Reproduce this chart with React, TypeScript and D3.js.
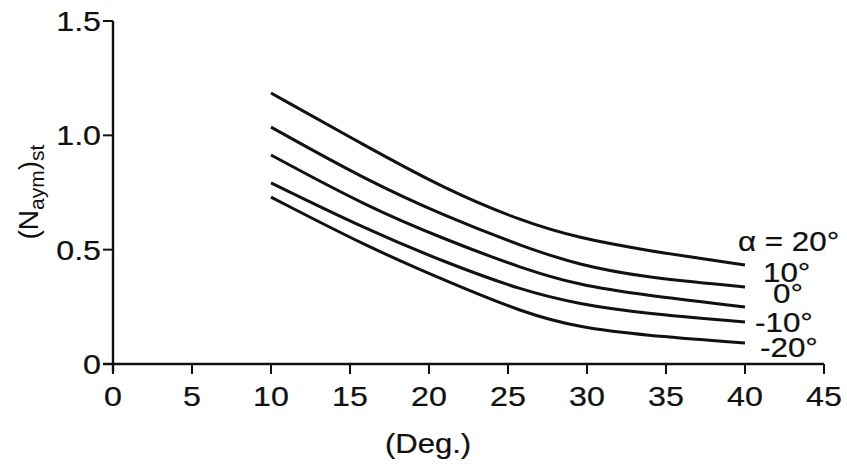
import React from "react";
import * as d3 from "d3";

const xTicks = [0, 5, 10, 15, 20, 25, 30, 35, 40, 45];
const yTicks = [0, 0.5, 1.0, 1.5];
const yTickLabels = ["0", "0.5", "1.0", "1.5"];

const degrees = [10, 16, 21, 26, 29.5, 33.5, 40];
const alphaPlus20 = [1.185, 0.953, 0.765, 0.621, 0.551, 0.499, 0.433];
const alphaPlus10 = [1.036, 0.805, 0.647, 0.512, 0.433, 0.38, 0.337];
const alphaZero = [0.914, 0.691, 0.545, 0.415, 0.345, 0.302, 0.249];
const alphaMinus10 = [0.792, 0.59, 0.445, 0.319, 0.262, 0.222, 0.184];
const alphaMinus20 = [0.73, 0.516, 0.365, 0.223, 0.16, 0.126, 0.092];

const seriesLabels = ["α = 20°", "10°", "0°", "-10°", "-20°"];
const seriesValues = [alphaPlus20, alphaPlus10, alphaZero, alphaMinus10, alphaMinus20];
const labelOffsets = [
  { dx: -7, dy: -14 },
  { dx: 18, dy: -5 },
  { dx: 28, dy: -4 },
  { dx: 10, dy: 10 },
  { dx: 15, dy: 14 },
];

const ink = "#111";

function T(props: {
  x: number;
  y: number;
  size: number;
  anchor?: "start" | "middle" | "end";
  sx?: number;
  children: React.ReactNode;
}) {
  const { x, y, size, anchor = "start", sx = 1.15, children } = props;
  return (
    <text
      transform={`translate(${x},${y}) scale(${sx},1)`}
      textAnchor={anchor}
      fontSize={size}
      fill={ink}
      stroke={ink}
      strokeWidth={0.25}
    >
      {children}
    </text>
  );
}

export default function App() {
  const W = 847;
  const H = 474;
  const x = d3.scaleLinear().domain([0, 45]).range([113, 824]);
  const y = d3.scaleLinear().domain([0, 1.5]).range([364, 21]);
  const line = d3
    .line<[number, number]>()
    .x((d) => x(d[0]))
    .y((d) => y(d[1]))
    .curve(d3.curveBasis);
  const font = "'Liberation Sans', Arial, sans-serif";
  return (
    <svg
      width={W}
      height={H}
      style={{ position: "absolute", left: 0, top: 0, background: "#fff" }}
      fontFamily={font}
    >
      <line x1={x(0)} x2={x(0)} y1={y(1.5)} y2={y(0) + 8} stroke={ink} strokeWidth={2.4} />
      <line x1={x(0) - 10} x2={x(45)} y1={y(0)} y2={y(0)} stroke={ink} strokeWidth={2.4} />
      {yTicks.map((t, i) => (
        <g key={"y" + i}>
          <line x1={x(0) - 10} x2={x(0)} y1={y(t)} y2={y(t)} stroke={ink} strokeWidth={2} />
          <T x={x(0) - 12} y={y(t) + 10} size={28} anchor="end">
            {yTickLabels[i]}
          </T>
        </g>
      ))}
      {xTicks.map((t) => (
        <g key={"x" + t}>
          <line x1={x(t)} x2={x(t)} y1={y(0)} y2={y(0) + 10} stroke={ink} strokeWidth={2} />
          <T x={x(t)} y={y(0) + 42} size={28} anchor="middle">
            {t}
          </T>
        </g>
      ))}
      <T x={428} y={453} size={27} anchor="middle">
        (Deg.)
      </T>
      <text
        transform="translate(38,192) rotate(-90)"
        textAnchor="middle"
        fontSize={28}
        fill={ink}
      >
        (N
        <tspan fontSize={21} dy={6}>aym</tspan>
        <tspan dy={-6}>)</tspan>
        <tspan fontSize={21} dy={6}>st</tspan>
      </text>
      {seriesValues.map((vals, i) => {
        const pts = degrees.map((d, j) => [d, vals[j]] as [number, number]);
        const last = pts[pts.length - 1];
        return (
          <g key={"s" + i}>
            <path d={line(pts) || ""} fill="none" stroke={ink} strokeWidth={3} />
            <T
              x={x(last[0]) + labelOffsets[i].dx}
              y={y(last[1]) + labelOffsets[i].dy}
              size={28}
              sx={1.12}
            >
              {seriesLabels[i]}
            </T>
          </g>
        );
      })}
    </svg>
  );
}
